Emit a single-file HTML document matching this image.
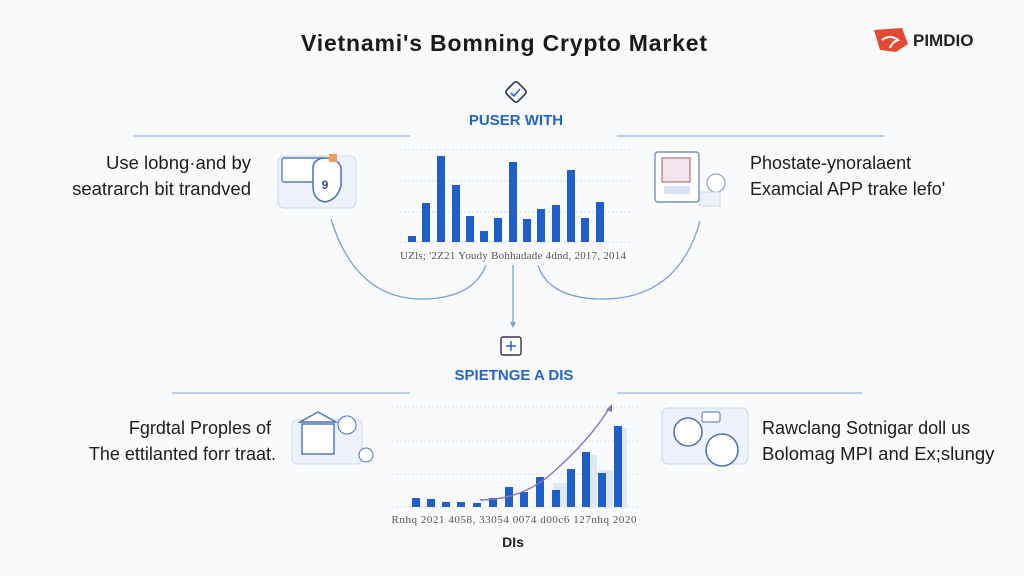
<!DOCTYPE html>
<html><head><meta charset="utf-8"><style>
html,body{margin:0;padding:0;background:#f9fafc;}
svg{display:block;font-family:"Liberation Sans",sans-serif;}
</style></head><body>
<svg width="1024" height="576" viewBox="0 0 1024 576" xmlns="http://www.w3.org/2000/svg">
<rect width="1024" height="576" fill="#f9fafc"/>
<text x="504" y="51" font-size="23" font-weight="bold" text-anchor="middle" fill="#1a1a1a" textLength="406">Vietnami's Bomning Crypto Market</text>
<!-- logo -->
<path d="M874 30 L902 28 L908 44 L896 52 L880 50 Z" fill="#e24a33"/>
<path d="M882 40 q8 -6 16 0 q-6 2 -8 8" stroke="#fff" stroke-width="2" fill="none"/>
<text x="913" y="46" font-size="17" font-weight="bold" fill="#222">PIMDIO</text>
<!-- top icon -->
<rect x="508" y="84" width="16" height="16" rx="3" fill="none" stroke="#334" stroke-width="1.6" transform="rotate(45 516 92)"/>
<path d="M511 93 l3 3 l6 -7" stroke="#2563c8" stroke-width="1.6" fill="none"/>
<text x="516" y="125" font-size="15" font-weight="bold" text-anchor="middle" fill="#2464c4">PUSER WITH</text>
<line x1="133" y1="136" x2="410" y2="136" stroke="#a9c2e6" stroke-width="1.5"/>
<line x1="617" y1="136" x2="884" y2="136" stroke="#a9c2e6" stroke-width="1.5"/>
<text x="251" y="169" font-size="18.5" text-anchor="end" fill="#1c1c1c">Use lobng·and by</text>
<text x="251" y="195" font-size="18.5" text-anchor="end" fill="#1c1c1c">seatrarch bit trandved</text>
<text x="750" y="169" font-size="18" fill="#1c1c1c">Phostate-ynoralaent</text>
<text x="750" y="195" font-size="18" fill="#1c1c1c">Examcial APP trake lefo'</text>
<!-- left top icon -->
<rect x="278" y="156" width="78" height="52" rx="6" fill="#eef3fb" stroke="#c9d8ef"/>
<rect x="282" y="158" width="42" height="24" rx="2" fill="#fff" stroke="#5a7cc4" stroke-width="1.4"/>
<path d="M313 168 q0 -8 10 -10 q16 0 18 10 l0 18 q-4 14 -16 16 q-12 -2 -12 -16 Z" fill="#fff" stroke="#4a70b8" stroke-width="1.5"/>
<text x="325" y="189" font-size="12" font-weight="bold" text-anchor="middle" fill="#2a4f9a">9</text>
<rect x="329" y="154" width="8" height="8" fill="#f0a050"/>
<!-- right top icon -->
<rect x="655" y="152" width="44" height="50" rx="3" fill="#fff" stroke="#7c8fb8" stroke-width="1.4"/>
<rect x="662" y="158" width="28" height="24" fill="#f1e6ee" stroke="#a56"/>
<rect x="664" y="186" width="26" height="8" fill="#d9e2f3"/>
<circle cx="716" cy="183" r="9" fill="#fff" stroke="#7c8fb8"/>
<rect x="700" y="192" width="20" height="14" fill="#eef3fb" stroke="#c9d8ef"/>
<!-- top chart -->
<g stroke="#d4dff0" stroke-dasharray="2 2"><line x1="400" y1="150" x2="630" y2="150"/><line x1="400" y1="181" x2="630" y2="181"/><line x1="400" y1="212" x2="630" y2="212"/><line x1="400" y1="242" x2="630" y2="242"/></g>
<g fill="#1f5fc9">
<rect x="408" y="236" width="8" height="6"/><rect x="422" y="203" width="8" height="39"/>
<rect x="437" y="156" width="8" height="86"/><rect x="452" y="185" width="8" height="57"/>
<rect x="466" y="216" width="8" height="26"/><rect x="480" y="231" width="8" height="11"/>
<rect x="494" y="218" width="8" height="24"/><rect x="509" y="162" width="8" height="80"/>
<rect x="523" y="219" width="8" height="23"/><rect x="537" y="209" width="8" height="33"/>
<rect x="552" y="205" width="8" height="37"/><rect x="567" y="170" width="8" height="72"/>
<rect x="581" y="218" width="8" height="24"/><rect x="596" y="202" width="8" height="40"/>
</g>
<text x="513" y="259" font-size="11" text-anchor="middle" fill="#555" font-family="Liberation Serif" textLength="226">UZls; '2Z21  Youdy  Bohhadade  4dnd, 2017, 2014</text>
<!-- connectors -->
<path d="M486 265 q-12 32 -60 34 q-70 2 -95 -80" stroke="#7fa0d4" stroke-width="1.3" fill="none"/>
<path d="M538 265 q10 32 60 34 q80 2 102 -78" stroke="#7fa0d4" stroke-width="1.3" fill="none"/>
<line x1="513" y1="265" x2="513" y2="326" stroke="#7fa0d4" stroke-width="1.3"/>
<path d="M510 322 l3 6 l3 -6" fill="#7fa0d4"/>
<rect x="501" y="337" width="20" height="18" rx="2" fill="#fff" stroke="#334" stroke-width="1.4"/>
<path d="M506 346 h10 M511 341 v10" stroke="#2563c8" stroke-width="1.5"/>
<text x="514" y="380" font-size="15" font-weight="bold" text-anchor="middle" fill="#2464c4">SPIETNGE A DIS</text>
<line x1="172" y1="393" x2="410" y2="393" stroke="#a9c2e6" stroke-width="1.5"/>
<line x1="617" y1="393" x2="862" y2="393" stroke="#a9c2e6" stroke-width="1.5"/>
<text x="271" y="434" font-size="18" text-anchor="end" fill="#1c1c1c">Fgrdtal Proples of</text>
<text x="276" y="460" font-size="18" text-anchor="end" fill="#1c1c1c">The ettilanted forr traat.</text>
<text x="762" y="434" font-size="18" fill="#1c1c1c">Rawclang Sotnigar doll us</text>
<text x="762" y="460" font-size="18.5" fill="#1c1c1c">Bolomag MPI and Ex;slungy</text>
<!-- left bottom icon -->
<rect x="292" y="420" width="70" height="44" rx="5" fill="#eef3fb" stroke="#c9d8ef"/>
<path d="M300 422 l18 -10 l18 10 Z" fill="#fff" stroke="#4a70b8" stroke-width="1.4"/>
<rect x="302" y="424" width="32" height="30" fill="#fff" stroke="#4a70b8" stroke-width="1.4"/>
<circle cx="347" cy="425" r="9" fill="#fff" stroke="#4a70b8"/>
<circle cx="366" cy="455" r="7" fill="#fff" stroke="#4a70b8"/>
<!-- right bottom icon -->
<rect x="662" y="408" width="86" height="56" rx="6" fill="#eef3fb" stroke="#c9d8ef"/>
<circle cx="688" cy="432" r="14" fill="#fff" stroke="#4a70b8" stroke-width="1.5"/>
<circle cx="722" cy="450" r="16" fill="#fff" stroke="#4a70b8" stroke-width="1.5"/>
<rect x="702" y="412" width="18" height="10" rx="2" fill="#fff" stroke="#4a70b8"/>
<!-- bottom chart -->
<g stroke="#d4dff0" stroke-dasharray="2 2"><line x1="392" y1="407" x2="640" y2="407"/><line x1="392" y1="441" x2="640" y2="441"/><line x1="392" y1="474" x2="640" y2="474"/><line x1="392" y1="507" x2="640" y2="507"/></g>
<g fill="#dfe8f6"><rect x="553" y="483" width="14" height="24"/><rect x="583" y="455" width="14" height="52"/><rect x="599" y="470" width="14" height="37"/><rect x="615" y="428" width="12" height="79"/></g>
<g fill="#1f5fc9">
<rect x="412" y="498" width="8" height="9"/><rect x="427" y="499" width="8" height="8"/>
<rect x="442" y="502" width="8" height="5"/><rect x="457" y="502" width="8" height="5"/>
<rect x="473" y="503" width="8" height="4"/><rect x="489" y="498" width="8" height="9"/>
<rect x="505" y="487" width="8" height="20"/><rect x="520" y="492" width="8" height="15"/>
<rect x="536" y="477" width="8" height="30"/><rect x="552" y="490" width="8" height="17"/>
<rect x="567" y="469" width="8" height="38"/><rect x="582" y="452" width="8" height="55"/>
<rect x="598" y="473" width="8" height="34"/><rect x="614" y="426" width="8" height="81"/>
</g>
<path d="M480 500 q40 0 70 -25 q40 -35 60 -68" stroke="#8a74b8" stroke-width="1.4" fill="none"/>
<path d="M606 410 l6 -6 l0 8 Z" fill="#8a74b8"/>
<text x="514" y="523" font-size="11" text-anchor="middle" fill="#555" font-family="Liberation Serif" textLength="245">Rnhq 2021  4058, 33054  0074  d00c6  127nhq  2020</text>
<text x="513" y="547" font-size="14" font-weight="bold" text-anchor="middle" fill="#222">DIs</text>
</svg>
</body></html>
